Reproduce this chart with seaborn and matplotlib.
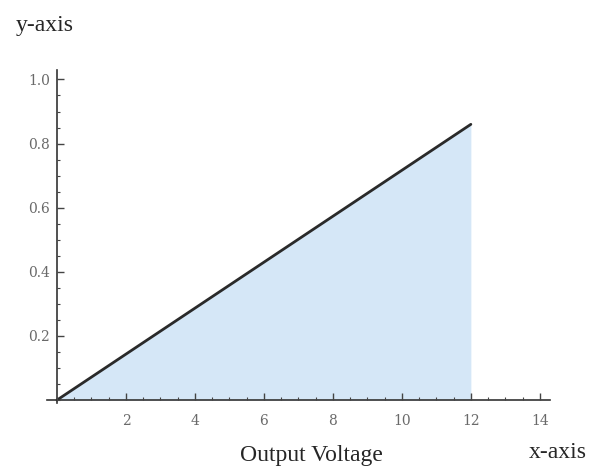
import matplotlib
matplotlib.use("Agg")
import matplotlib.pyplot as plt
import seaborn as sns
import pandas as pd
from matplotlib.ticker import MultipleLocator, FixedLocator

x_vals = [0, 12]
y_vals = [0, 0.86]
x_ticks = [2, 4, 6, 8, 10, 12, 14]
y_ticks = [0.2, 0.4, 0.6, 0.8, 1.0]
y_tick_labels = ["0.2", "0.4", "0.6", "0.8", "1.0"]

sns.set_style("white")
plt.rcParams['font.family'] = ['DejaVu Serif']

df = pd.DataFrame({"x": x_vals, "y": y_vals})

fig = plt.figure(figsize=(6.11, 4.75), dpi=100)
ax = fig.add_axes([0.0769, 0.151, 0.823, 0.702])

ax.fill_between(df["x"], 0, df["y"], color="#d5e7f7", linewidth=0, zorder=0.5)
sns.lineplot(data=df, x="x", y="y", ax=ax, color="#2a2a2a", linewidth=2)
ax.set_axisbelow(False)

ax.set_xlim(-0.29, 14.29)
ax.set_ylim(-0.01, 1.03)

for s in ["top", "right"]:
    ax.spines[s].set_visible(False)
ax.spines["left"].set_position(("data", 0))
ax.spines["bottom"].set_position(("data", 0))
for s in ["left", "bottom"]:
    ax.spines[s].set_color("#333333")
    ax.spines[s].set_linewidth(1.2)

ax.xaxis.set_major_locator(FixedLocator(x_ticks))
ax.xaxis.set_minor_locator(MultipleLocator(0.5))
ax.yaxis.set_major_locator(FixedLocator(y_ticks))
ax.set_yticklabels(y_tick_labels)
ax.yaxis.set_minor_locator(MultipleLocator(0.05))

ax.tick_params(which="both", direction="in", color="#444444", labelcolor="#6a6a6a", labelsize=10)
ax.tick_params(which="major", length=5, width=1)
ax.tick_params(which="minor", length=2.5, width=0.8)
ax.tick_params(axis="x", which="both", bottom=True, pad=10)
ax.tick_params(axis="y", which="both", left=True, pad=5)
ax.set_xlabel("")
ax.set_ylabel("")

fig.text(16/611, 1 - 25/475, "y-axis", fontsize=17, family="Liberation Serif", va="center", ha="left")
fig.text(311/611, 1 - 455/475, "Output Voltage", fontsize=17, family="Liberation Serif", va="center", ha="center")
fig.text(558/611, 1 - 452/475, "x-axis", fontsize=17, family="Liberation Serif", va="center", ha="center")

fig.savefig("out.png", dpi=100)
